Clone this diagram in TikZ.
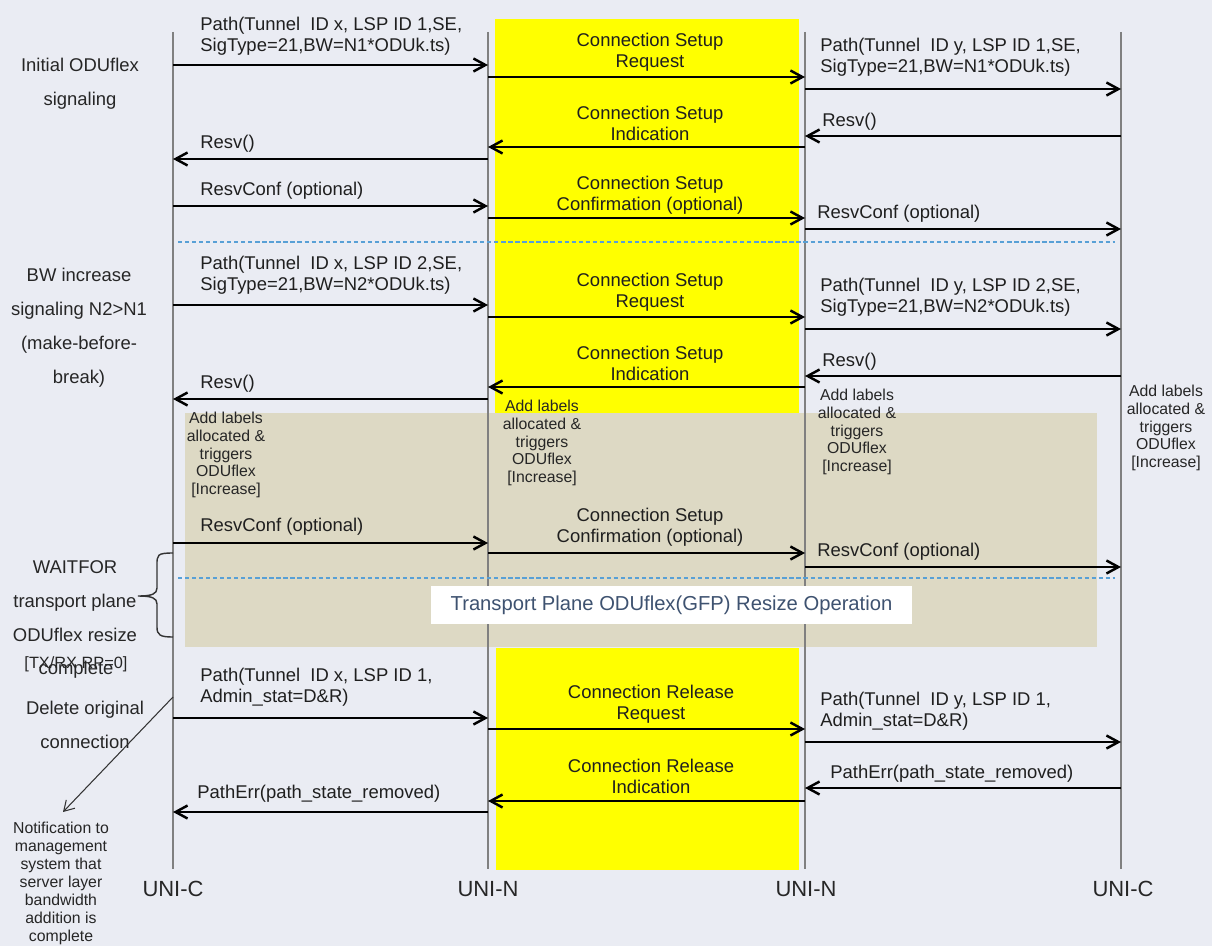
\documentclass[tikz,border=0pt]{standalone}
\usepackage{fontspec}
\setmainfont{Liberation Sans}
\usepackage{tikz}
\usepackage{xcolor}
\definecolor{bgGrey}{RGB}{234,236,243}
\definecolor{hiYellow}{RGB}{255,255,0}
\definecolor{tanBox}{RGB}{221,217,196}
\definecolor{dashBlue}{RGB}{88,160,214}
\definecolor{opBlue}{RGB}{62,82,112}
\definecolor{lineGrey}{RGB}{128,128,128}
\usetikzlibrary{arrows.meta}

\begin{document}
\begin{tikzpicture}[x=0.02cm,y=-0.02cm]
\tikzstyle{msgArrow} = [
  draw = black,
  line width = 1.4pt,
  -{Straight Barb[length=2.4mm,width=2.6mm]}
]
\tikzstyle{noteArrow} = [
  draw = black!80,
  line width = 0.6pt,
  -{Straight Barb[length=2mm,width=2.4mm]}
]
\tikzstyle{lifeLine} = [
  draw = lineGrey,
  line width = 1pt
]
\tikzstyle{phaseLine} = [
  draw = dashBlue,
  line width = 0.8pt,
  dash pattern = on 2.4pt off 1.6pt
]
\tikzstyle{msgLabel} = [
  inner sep = 0pt,
  align = left,
  text = black!88,
  font = \fontsize{10.5}{12}\selectfont
]
\tikzstyle{stepLabel} = [
  inner sep = 0pt,
  align = center,
  text = black!88,
  font = \fontsize{10.5}{12}\selectfont
]
\tikzstyle{sideLabel} = [
  inner sep = 0pt,
  align = center,
  text = black!85,
  font = \fontsize{10.5}{19.3}\selectfont
]
\tikzstyle{noteLabel} = [
  inner sep = 0pt,
  align = center,
  text = black!85,
  font = \fontsize{9}{10}\selectfont
]
\tikzstyle{endLabel} = [
  inner sep = 0pt,
  text = black!85,
  font = \fontsize{12.5}{15}\selectfont
]

% background and phase areas
\fill[bgGrey] (0,0) rectangle (1212,946);
\useasboundingbox (0,0) rectangle (1212,946);
\fill[hiYellow] (495,19) rectangle (799,413);
\fill[tanBox] (185,413) rectangle (1097,647);
\fill[hiYellow] (496,648) rectangle (799,870);

% lifelines
\coordinate (ucLtop) at (173,32);  \coordinate (ucLbot) at (173,869);
\coordinate (unAtop) at (488,32);  \coordinate (unAbot) at (488,869);
\coordinate (unBtop) at (805,32);  \coordinate (unBbot) at (805,869);
\coordinate (ucRtop) at (1121,32); \coordinate (ucRbot) at (1121,869);
\draw[lifeLine] (ucLtop) -- (ucLbot);
\draw[lifeLine] (unAtop) -- (unAbot);
\draw[lifeLine] (unBtop) -- (unBbot);
\draw[lifeLine] (ucRtop) -- (ucRbot);

\node[endLabel] (ucL) at (173,889) {UNI-C};
\node[endLabel] (unA) at (488,889) {UNI-N};
\node[endLabel] (unB) at (806,889) {UNI-N};
\node[endLabel] (ucR) at (1123,889) {UNI-C};

% phase separators
\coordinate (ph1a) at (178,242); \coordinate (ph1b) at (1115,242);
\coordinate (ph2a) at (178,578); \coordinate (ph2b) at (1115,578);
\draw[phaseLine] (ph1a) -- (ph1b);
\draw[phaseLine] (ph2a) -- (ph2b);

\node[fill=white, minimum width=9.62cm, minimum height=0.76cm, inner sep=0pt,
  text=opBlue, font=\fontsize{11.5}{14}\selectfont] (resizeOp) at (671.5,605)
  {Transport Plane ODUflex(GFP) Resize Operation};

% message end points
\coordinate (p1a) at (173,65);  \coordinate (p1b) at (488,65);
\coordinate (p2a) at (488,77);  \coordinate (p2b) at (805,77);
\coordinate (p3a) at (805,89);  \coordinate (p3b) at (1121,89);
\coordinate (r1a) at (1121,136); \coordinate (r1b) at (805,136);
\coordinate (r2a) at (805,147); \coordinate (r2b) at (488,147);
\coordinate (r3a) at (488,159); \coordinate (r3b) at (173,159);
\coordinate (c1a) at (173,206); \coordinate (c1b) at (488,206);
\coordinate (c2a) at (488,218); \coordinate (c2b) at (805,218);
\coordinate (c3a) at (805,229); \coordinate (c3b) at (1121,229);
\coordinate (p4a) at (173,305); \coordinate (p4b) at (488,305);
\coordinate (p5a) at (488,317); \coordinate (p5b) at (805,317);
\coordinate (p6a) at (805,329); \coordinate (p6b) at (1121,329);
\coordinate (r4a) at (1121,376); \coordinate (r4b) at (805,376);
\coordinate (r5a) at (805,387); \coordinate (r5b) at (488,387);
\coordinate (r6a) at (488,399); \coordinate (r6b) at (173,399);
\coordinate (c4a) at (173,543); \coordinate (c4b) at (488,543);
\coordinate (c5a) at (488,553); \coordinate (c5b) at (805,553);
\coordinate (c6a) at (805,567); \coordinate (c6b) at (1121,567);
\coordinate (d1a) at (173,718); \coordinate (d1b) at (488,718);
\coordinate (d2a) at (488,729); \coordinate (d2b) at (805,729);
\coordinate (d3a) at (805,742); \coordinate (d3b) at (1121,742);
\coordinate (e1a) at (1121,788); \coordinate (e1b) at (805,788);
\coordinate (e2a) at (805,801); \coordinate (e2b) at (488,801);
\coordinate (e3a) at (488,812); \coordinate (e3b) at (173,812);

\draw[msgArrow] (p1a) -- (p1b);
\draw[msgArrow] (p2a) -- (p2b);
\draw[msgArrow] (p3a) -- (p3b);
\draw[msgArrow] (r1a) -- (r1b);
\draw[msgArrow] (r2a) -- (r2b);
\draw[msgArrow] (r3a) -- (r3b);
\draw[msgArrow] (c1a) -- (c1b);
\draw[msgArrow] (c2a) -- (c2b);
\draw[msgArrow] (c3a) -- (c3b);
\draw[msgArrow] (p4a) -- (p4b);
\draw[msgArrow] (p5a) -- (p5b);
\draw[msgArrow] (p6a) -- (p6b);
\draw[msgArrow] (r4a) -- (r4b);
\draw[msgArrow] (r5a) -- (r5b);
\draw[msgArrow] (r6a) -- (r6b);
\draw[msgArrow] (c4a) -- (c4b);
\draw[msgArrow] (c5a) -- (c5b);
\draw[msgArrow] (c6a) -- (c6b);
\draw[msgArrow] (d1a) -- (d1b);
\draw[msgArrow] (d2a) -- (d2b);
\draw[msgArrow] (d3a) -- (d3b);
\draw[msgArrow] (e1a) -- (e1b);
\draw[msgArrow] (e2a) -- (e2b);
\draw[msgArrow] (e3a) -- (e3b);

% initial signaling
\node[msgLabel, anchor=north west] (lp1) at (200,17) {Path(Tunnel\ \ ID x, LSP ID 1,SE,\\SigType=21,BW=N1*ODUk.ts)};
\node[stepLabel, anchor=north] (lp2) at (650,33) {Connection Setup\\Request};
\node[msgLabel, anchor=north west] (lp3) at (820,38) {Path(Tunnel\ \ ID y, LSP ID 1,SE,\\SigType=21,BW=N1*ODUk.ts)};
\node[msgLabel, anchor=base west] (lr1) at (822,126) {Resv()};
\node[stepLabel, anchor=north] (lr2) at (650,106) {Connection Setup\\Indication};
\node[msgLabel, anchor=base west] (lr3) at (200,148) {Resv()};
\node[msgLabel, anchor=base west] (lc1) at (200,195) {ResvConf (optional)};
\node[stepLabel, anchor=north] (lc2) at (650,176) {Connection Setup\\Confirmation (optional)};
\node[msgLabel, anchor=base west] (lc3) at (817,218) {ResvConf (optional)};

% bandwidth increase
\node[msgLabel, anchor=north west] (lp4) at (200,256) {Path(Tunnel\ \ ID x, LSP ID 2,SE,\\SigType=21,BW=N2*ODUk.ts)};
\node[stepLabel, anchor=north] (lp5) at (650,273) {Connection Setup\\Request};
\node[msgLabel, anchor=north west] (lp6) at (820,278) {Path(Tunnel\ \ ID y, LSP ID 2,SE,\\SigType=21,BW=N2*ODUk.ts)};
\node[msgLabel, anchor=base west] (lr4) at (822,366) {Resv()};
\node[stepLabel, anchor=north] (lr5) at (650,346) {Connection Setup\\Indication};
\node[msgLabel, anchor=base west] (lr6) at (200,388) {Resv()};
\node[noteLabel] (nt1) at (226,455) {Add labels\\allocated \&\\triggers\\ODUflex\\{[Increase]}};
\node[noteLabel] (nt2) at (542,443) {Add labels\\allocated \&\\triggers\\ODUflex\\{[Increase]}};
\node[noteLabel] (nt3) at (857,432) {Add labels\\allocated \&\\triggers\\ODUflex\\{[Increase]}};
\node[noteLabel] (nt4) at (1166,428) {Add labels\\allocated \&\\triggers\\ODUflex\\{[Increase]}};
\node[msgLabel, anchor=base west] (lc4) at (200,531) {ResvConf (optional)};
\node[stepLabel, anchor=north] (lc5) at (650,508) {Connection Setup\\Confirmation (optional)};
\node[msgLabel, anchor=base west] (lc6) at (817,556) {ResvConf (optional)};

% release of the old connection
\node[msgLabel, anchor=north west] (ld1) at (200,668) {Path(Tunnel\ \ ID x, LSP ID 1,\\Admin\_stat=D\&R)};
\node[stepLabel, anchor=north] (ld2) at (651,685) {Connection Release\\Request};
\node[msgLabel, anchor=north west] (ld3) at (820,692) {Path(Tunnel\ \ ID y, LSP ID 1,\\Admin\_stat=D\&R)};
\node[msgLabel, anchor=base west] (le1) at (830,778) {PathErr(path\_state\_removed)};
\node[stepLabel, anchor=north] (le2) at (651,759) {Connection Release\\Indication};
\node[msgLabel, anchor=base west] (le3) at (197,798) {PathErr(path\_state\_removed)};

% side notes
\node[sideLabel, anchor=north] (sd1) at (80,58) {Initial ODUflex\\signaling};
\node[sideLabel, anchor=north] (sd2) at (79,268) {BW increase\\signaling N2>N1\\(make-before-\\break)};
\node[sideLabel, anchor=north] (sd3) at (75,560) {WAITFOR\\transport plane\\ODUflex resize};
\node[sideLabel, font=\fontsize{9.3}{12}\selectfont] (sd4) at (76,664) {[TX/RX RP=0]};
\node[sideLabel] (sd5) at (76,670) {complete};
\node[sideLabel, anchor=north] (sd6) at (85,701) {Delete original\\connection};
\node[noteLabel, anchor=north, font=\fontsize{9}{10.25}\selectfont] (ntMgmt) at (61,822)
  {Notification to\\management\\system that\\server layer\\bandwidth\\addition is\\complete};

\draw[black!80, line width=0.8pt] (173,553) .. controls (157,553) and (157,555) .. (157,565) -- (157,588)
  .. controls (157,594) and (152,596) .. (138,596)
  .. controls (152,596) and (157,598) .. (157,604) -- (157,627)
  .. controls (157,635) and (160,637) .. (173,637);

\coordinate (delFrom) at (173,697);
\coordinate (delTo) at (63,812);
\draw[noteArrow] (delFrom) -- (delTo);

\end{tikzpicture}
\end{document}
